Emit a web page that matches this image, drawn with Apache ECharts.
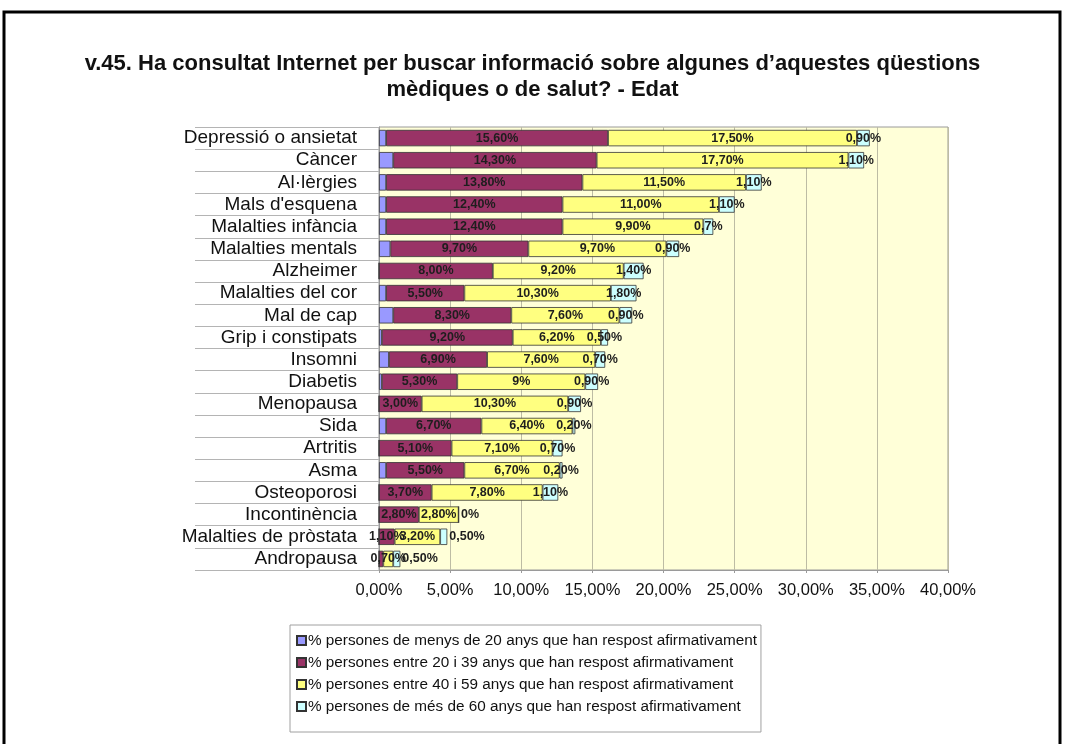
<!DOCTYPE html>
<html>
<head>
<meta charset="utf-8">
<script src="https://cdn.jsdelivr.net/npm/echarts@6/dist/echarts.min.js"></script>
<style>
  html, body { margin: 0; padding: 0; background: #ffffff; }
  #chart { width: 1065px; height: 744px; }
</style>
</head>
<body>
<div id="chart"></div>
<script>
// Topics asked about, top to bottom
const categories = [
  'Depressió o ansietat', 'Càncer', 'Al·lèrgies', "Mals d'esquena", 'Malalties infància',
  'Malalties mentals', 'Alzheimer', 'Malalties del cor', 'Mal de cap', 'Grip i constipats',
  'Insomni', 'Diabetis', 'Menopausa', 'Sida', 'Artritis', 'Asma', 'Osteoporosi',
  'Incontinència', 'Malalties de pròstata', 'Andropausa'
];

// Share of each age group answering yes (%)
const under20   = [0.5, 1.0, 0.5, 0.5, 0.5, 0.8, 0, 0.5, 1.0, 0.2, 0.7, 0.2, 0, 0.5, 0, 0.5, 0, 0, 0, 0];
const age20to39 = [15.6, 14.3, 13.8, 12.4, 12.4, 9.7, 8.0, 5.5, 8.3, 9.2, 6.9, 5.3, 3.0, 6.7, 5.1, 5.5, 3.7, 2.8, 1.1, 0.3];
const age40to59 = [17.5, 17.7, 11.5, 11.0, 9.9, 9.7, 9.2, 10.3, 7.6, 6.2, 7.6, 9, 10.3, 6.4, 7.1, 6.7, 7.8, 2.8, 3.2, 0.7];
const over60    = [0.9, 1.1, 1.1, 1.1, 0.7, 0.9, 1.4, 1.8, 0.9, 0.5, 0.7, 0.9, 0.9, 0.2, 0.7, 0.2, 1.1, 0, 0.5, 0.5];

const seriesNames = [
  '% persones de menys de 20 anys que han respost afirmativament',
  '% persones entre 20 i 39 anys que han respost afirmativament',
  '% persones entre 40 i 59 anys que han respost afirmativament',
  '% persones de més de 60 anys que han respost afirmativament'
];

// Value axis range
const xMin = 0, xMax = 40, xStep = 5;

// Labels printed in a shorter form
const shortLabels = {
  'Diabetis|2': '9%',
  'Malalties infància|3': '0,7%',
  'Incontinència|3': '0%'
};
// Rows whose last label sits past the end of the bar
const labelRight = ['Incontinència', 'Malalties de pròstata', 'Andropausa'];
// Segments drawn without a value label
const noLabel = ['Andropausa|1'];

const colors = ['#9999FF', '#993366', '#FFFF80', '#CCFFFF'];
const FONT = 'Liberation Sans, Arial, sans-serif';

function pct(v) {
  return v.toFixed(2).replace('.', ',') + '%';
}

function buildData(values, s) {
  return values.map((v, i) => {
    const key = categories[i] + '|' + s;
    const item = { value: v };
    if (noLabel.includes(key)) {
      item.label = { show: false };
    } else if (s === 3 && labelRight.includes(categories[i])) {
      item.label = { position: 'right', distance: 2 };
    }
    return item;
  });
}

const allValues = [under20, age20to39, age40to59, over60];

const series = allValues.map((vals, s) => ({
  name: seriesNames[s],
  type: 'bar',
  stack: 'total',
  barCategoryGap: '26%',
  data: buildData(vals, s),
  itemStyle: { color: colors[s], borderColor: '#333333', borderWidth: 0.8 },
  emphasis: { disabled: true },
  label: {
    show: s > 0,
    position: 'inside',
    fontFamily: FONT,
    fontWeight: 'bold',
    fontSize: 12.5,
    color: '#1e1e1e',
    textBorderWidth: 0,
    formatter: p => shortLabels[categories[p.dataIndex] + '|' + s] || pct(p.value)
  }
}));

const chart = echarts.init(document.getElementById('chart'), null, { renderer: 'canvas' });

chart.setOption({
  backgroundColor: '#ffffff',
  animation: false,
  title: {
    text: 'v.45. Ha consultat Internet per buscar informació sobre algunes d’aquestes qüestions\nmèdiques o de salut? - Edat',
    left: 'center',
    top: 46,
    textStyle: {
      fontFamily: FONT,
      fontWeight: 'bold',
      fontSize: 22,
      lineHeight: 26,
      color: '#111111',
      align: 'center'
    }
  },
  grid: {
    left: 379, right: 117, top: 127, bottom: 174,
    show: true,
    backgroundColor: '#FFFFD8',
    borderColor: '#9a9a9a',
    borderWidth: 1
  },
  legend: {
    orient: 'vertical',
    left: 290,
    top: 625,
    padding: [8, 4, 18, 6],
    itemGap: 7,
    itemWidth: 9,
    itemHeight: 9,
    icon: 'rect',
    borderColor: '#a0a0a0',
    borderWidth: 1,
    backgroundColor: '#ffffff',
    selectedMode: false,
    textStyle: {
      fontFamily: FONT,
      fontSize: 15.3,
      color: '#111111',
      padding: [0, 0, 0, -3]
    },
    data: seriesNames
  },
  xAxis: {
    type: 'value',
    min: xMin,
    max: xMax,
    interval: xStep,
    axisLine: { show: true, lineStyle: { color: '#9a9a9a' } },
    axisTick: { show: true, length: 3, lineStyle: { color: '#9a9a9a' } },
    splitLine: { show: true, lineStyle: { color: '#bdbca4', width: 1 } },
    axisLabel: {
      fontFamily: FONT,
      fontSize: 16.5,
      color: '#111111',
      margin: 12,
      formatter: v => pct(v)
    }
  },
  yAxis: {
    type: 'category',
    inverse: true,
    data: categories,
    axisLine: { show: true, lineStyle: { color: '#9a9a9a' } },
    axisTick: { show: true, interval: 0, length: 184, lineStyle: { color: '#b4b4b4' } },
    axisLabel: {
      interval: 0,
      hideOverlap: false,
      fontFamily: FONT,
      fontSize: 19,
      color: '#111111',
      margin: 22
    }
  },
  graphic: [{
    type: 'polyline',
    shape: { points: [[4, 744], [4, 12], [1060, 12], [1060, 744]] },
    style: { stroke: '#000000', lineWidth: 3, fill: null },
    silent: true
  }],
  series: series
});
</script>
</body>
</html>
